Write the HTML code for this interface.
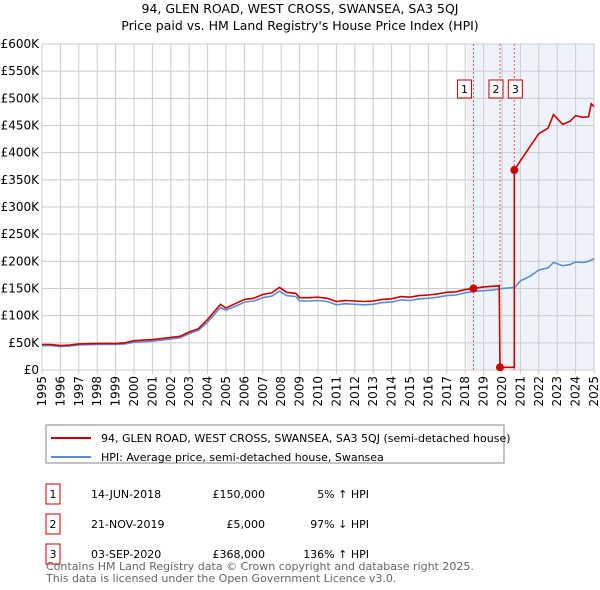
<!DOCTYPE html>
<html><head><meta charset="utf-8"><style>
body{margin:0;background:#fff;font-family:"Liberation Sans","DejaVu Sans",sans-serif;}
#wrap{position:relative;width:600px;height:590px;overflow:hidden;}
svg text{font-family:"DejaVu Sans","Liberation Sans",sans-serif;}
</style></head><body><div id="wrap">
<svg id="svg" width="600" height="590">
<text x="300" y="13" text-anchor="middle" font-size="12.5">94, GLEN ROAD, WEST CROSS, SWANSEA, SA3 5QJ</text>
<text x="300" y="30" text-anchor="middle" font-size="12.5">Price paid vs. HM Land Registry's House Price Index (HPI)</text>
<g id="grid"></g><g id="series"></g><g id="axes"></g>
<rect x="46" y="425" width="458" height="38" fill="#fff" stroke="#888"/>
<line x1="51" y1="438" x2="91" y2="438" stroke="#cc0000" stroke-width="2"/>
<text x="101" y="442" font-size="11">94, GLEN ROAD, WEST CROSS, SWANSEA, SA3 5QJ (semi-detached house)</text>
<line x1="51" y1="457" x2="91" y2="457" stroke="#5b8fd4" stroke-width="2"/>
<text x="101" y="461" font-size="11">HPI: Average price, semi-detached house, Swansea</text>
<g id="table" font-size="11"></g>
<text x="46" y="570" font-size="11" fill="#666">Contains HM Land Registry data © Crown copyright and database right 2025.</text>
<text x="46" y="582" font-size="11" fill="#666">This data is licensed under the Open Government Licence v3.0.</text>
</svg></div>
<script>
const hpiYears=[1995,1995.5,1996,1996.5,1997,1998,1999,1999.5,2000,2001,2002,2002.5,2003,2003.5,2004,2004.7,2005,2005.5,2006,2006.5,2007,2007.5,2007.9,2008.3,2008.8,2009,2009.5,2010,2010.5,2011,2011.5,2012,2012.5,2013,2013.5,2014,2014.5,2015,2015.5,2016,2016.5,2017,2017.5,2018,2018.5,2019,2019.5,2020,2020.7,2021,2021.5,2022,2022.5,2022.8,2023.3,2023.7,2024,2024.4,2024.7,2025];
const hpiValues=[45,45,43,44,46,47,47,48,51,53,57,59,67,73,88,115,110,117,125,127,133,136,145,137,135,127,127,128,126,120,122,121,120,121,124,125,129,128,131,132,134,137,138,142,145,146,147,150,152,164,172,184,188,198,192,194,199,198,200,205];
const redYears=[1995,1995.5,1996,1996.5,1997,1998,1999,1999.5,2000,2001,2002,2002.5,2003,2003.5,2004,2004.7,2005,2005.5,2006,2006.5,2007,2007.5,2007.9,2008.3,2008.8,2009,2009.5,2010,2010.5,2011,2011.5,2012,2012.5,2013,2013.5,2014,2014.5,2015,2015.5,2016,2016.5,2017,2017.5,2018,2018.45,2019,2019.5,2019.85,2019.89,2020.67,2020.67,2021,2021.5,2022,2022.5,2022.8,2023.3,2023.7,2024,2024.4,2024.7,2024.85,2025];
const redValues=[47,47,45,46,48,49,49,50,54,56,60,62,70,76,93,121,114,122,130,132,139,142,152,143,141,133,133,134,132,126,128,127,126,127,130,131,135,134,137,138,140,143,144,148,150,153,154,155,5,5,368,385,410,435,445,470,452,458,468,465,466,490,485];
const saleYears=[2018.45,2019.89,2020.67];
const saleValues=[150,5,368];
const saleLabels=["1","2","3"];
const saleDates=["14-JUN-2018","21-NOV-2019","03-SEP-2020"];
const salePrices=["£150,000","£5,000","£368,000"];
const saleHpi=["5% \u2191 HPI","97% \u2193 HPI","136% \u2191 HPI"];
const yTicks=[0,50,100,150,200,250,300,350,400,450,500,550,600];
const xTicks=[1995,1996,1997,1998,1999,2000,2001,2002,2003,2004,2005,2006,2007,2008,2009,2010,2011,2012,2013,2014,2015,2016,2017,2018,2019,2020,2021,2022,2023,2024,2025];
const X0=42,X1=594,Y0=370,Y1=44;
const xs=y=>X0+(y-1995)/30*(X1-X0);
const ys=v=>Y0-v/600*(Y0-Y1);
const NS="http://www.w3.org/2000/svg";
function mk(parent,tag,attrs,txt){const e=document.createElementNS(NS,tag);for(const k in attrs)e.setAttribute(k,attrs[k]);if(txt!==undefined)e.textContent=txt;parent.appendChild(e);return e;}
const grid=document.getElementById('grid'),ser=document.getElementById('series'),ax=document.getElementById('axes'),tb=document.getElementById('table');
let sh=mk(grid,'rect',{x:xs(2018.1),y:Y1,width:X1-xs(2018.1),height:Y0-Y1,fill:'#eef2fb'});


yTicks.forEach(v=>{
 let l=mk(grid,'line',{x1:X0,x2:X1,y1:ys(v),y2:ys(v),stroke:'#ccc'});
 
 
 let t=mk(ax,'text',{x:X0-3,y:ys(v)+4,'text-anchor':'end','font-size':'12'},v===0?'£0':'£'+v+'K');
 
 
});
xTicks.forEach(y=>{
 let l=mk(grid,'line',{x1:xs(y),x2:xs(y),y1:Y1,y2:Y0+4,stroke:'#ccc'});
 
 
 let t=mk(ax,'text',{x:0,y:0,'text-anchor':'end','font-size':'12',transform:`translate(${xs(y)+4},${Y0+6}) rotate(-90)`},String(y));
 
 
});
saleYears.forEach((y,i)=>{
 let l=mk(grid,'line',{x1:xs(y),x2:xs(y),y1:Y1,y2:Y0,stroke:'#e55','stroke-dasharray':'2,2','stroke-width':1});
 
 
});
function path(xa,va,color,name){
 let d=xa.map((x,i)=>(i?'L':'M')+xs(x).toFixed(1)+','+ys(va[i]).toFixed(1)).join('');
 let p=mk(ser,'path',{d:d,fill:'none',stroke:color,'stroke-width':1.6});
 
 
}
path(hpiYears,hpiValues,'#5b8fd4','hpi-line');
path(redYears,redValues,'#cc0000','property-price-line');
saleYears.forEach((y,i)=>{
 let c=mk(ser,'circle',{cx:xs(y),cy:ys(saleValues[i]),r:4,fill:'#cc0000'});
 
 
 let bx=xs(y)-(i===0?9:i===1?4:-1)-7;
 if(i===0)bx=xs(y)-16;
 let r=mk(ser,'rect',{x:bx,y:80,width:14,height:18,fill:'#fff',stroke:'#cc0000'});
 
 
 let t=mk(ser,'text',{x:bx+7,y:93,'text-anchor':'middle','font-size':'11'},saleLabels[i]);
 
 
 let ry=484+i*30;
 let br=mk(tb,'rect',{x:46,y:ry,width:14,height:20,fill:'#fff',stroke:'#cc0000'});
 
 
 let bt=mk(tb,'text',{x:53,y:ry+14,'text-anchor':'middle'},saleLabels[i]);
 
 
 let dt=mk(tb,'text',{x:91,y:ry+14},saleDates[i]);
 
 
 let pt=mk(tb,'text',{x:265,y:ry+14,'text-anchor':'end'},salePrices[i]);
 
 
 let ht=mk(tb,'text',{x:369,y:ry+14,'text-anchor':'end'},saleHpi[i]);
 
 
});
</script></body></html>
